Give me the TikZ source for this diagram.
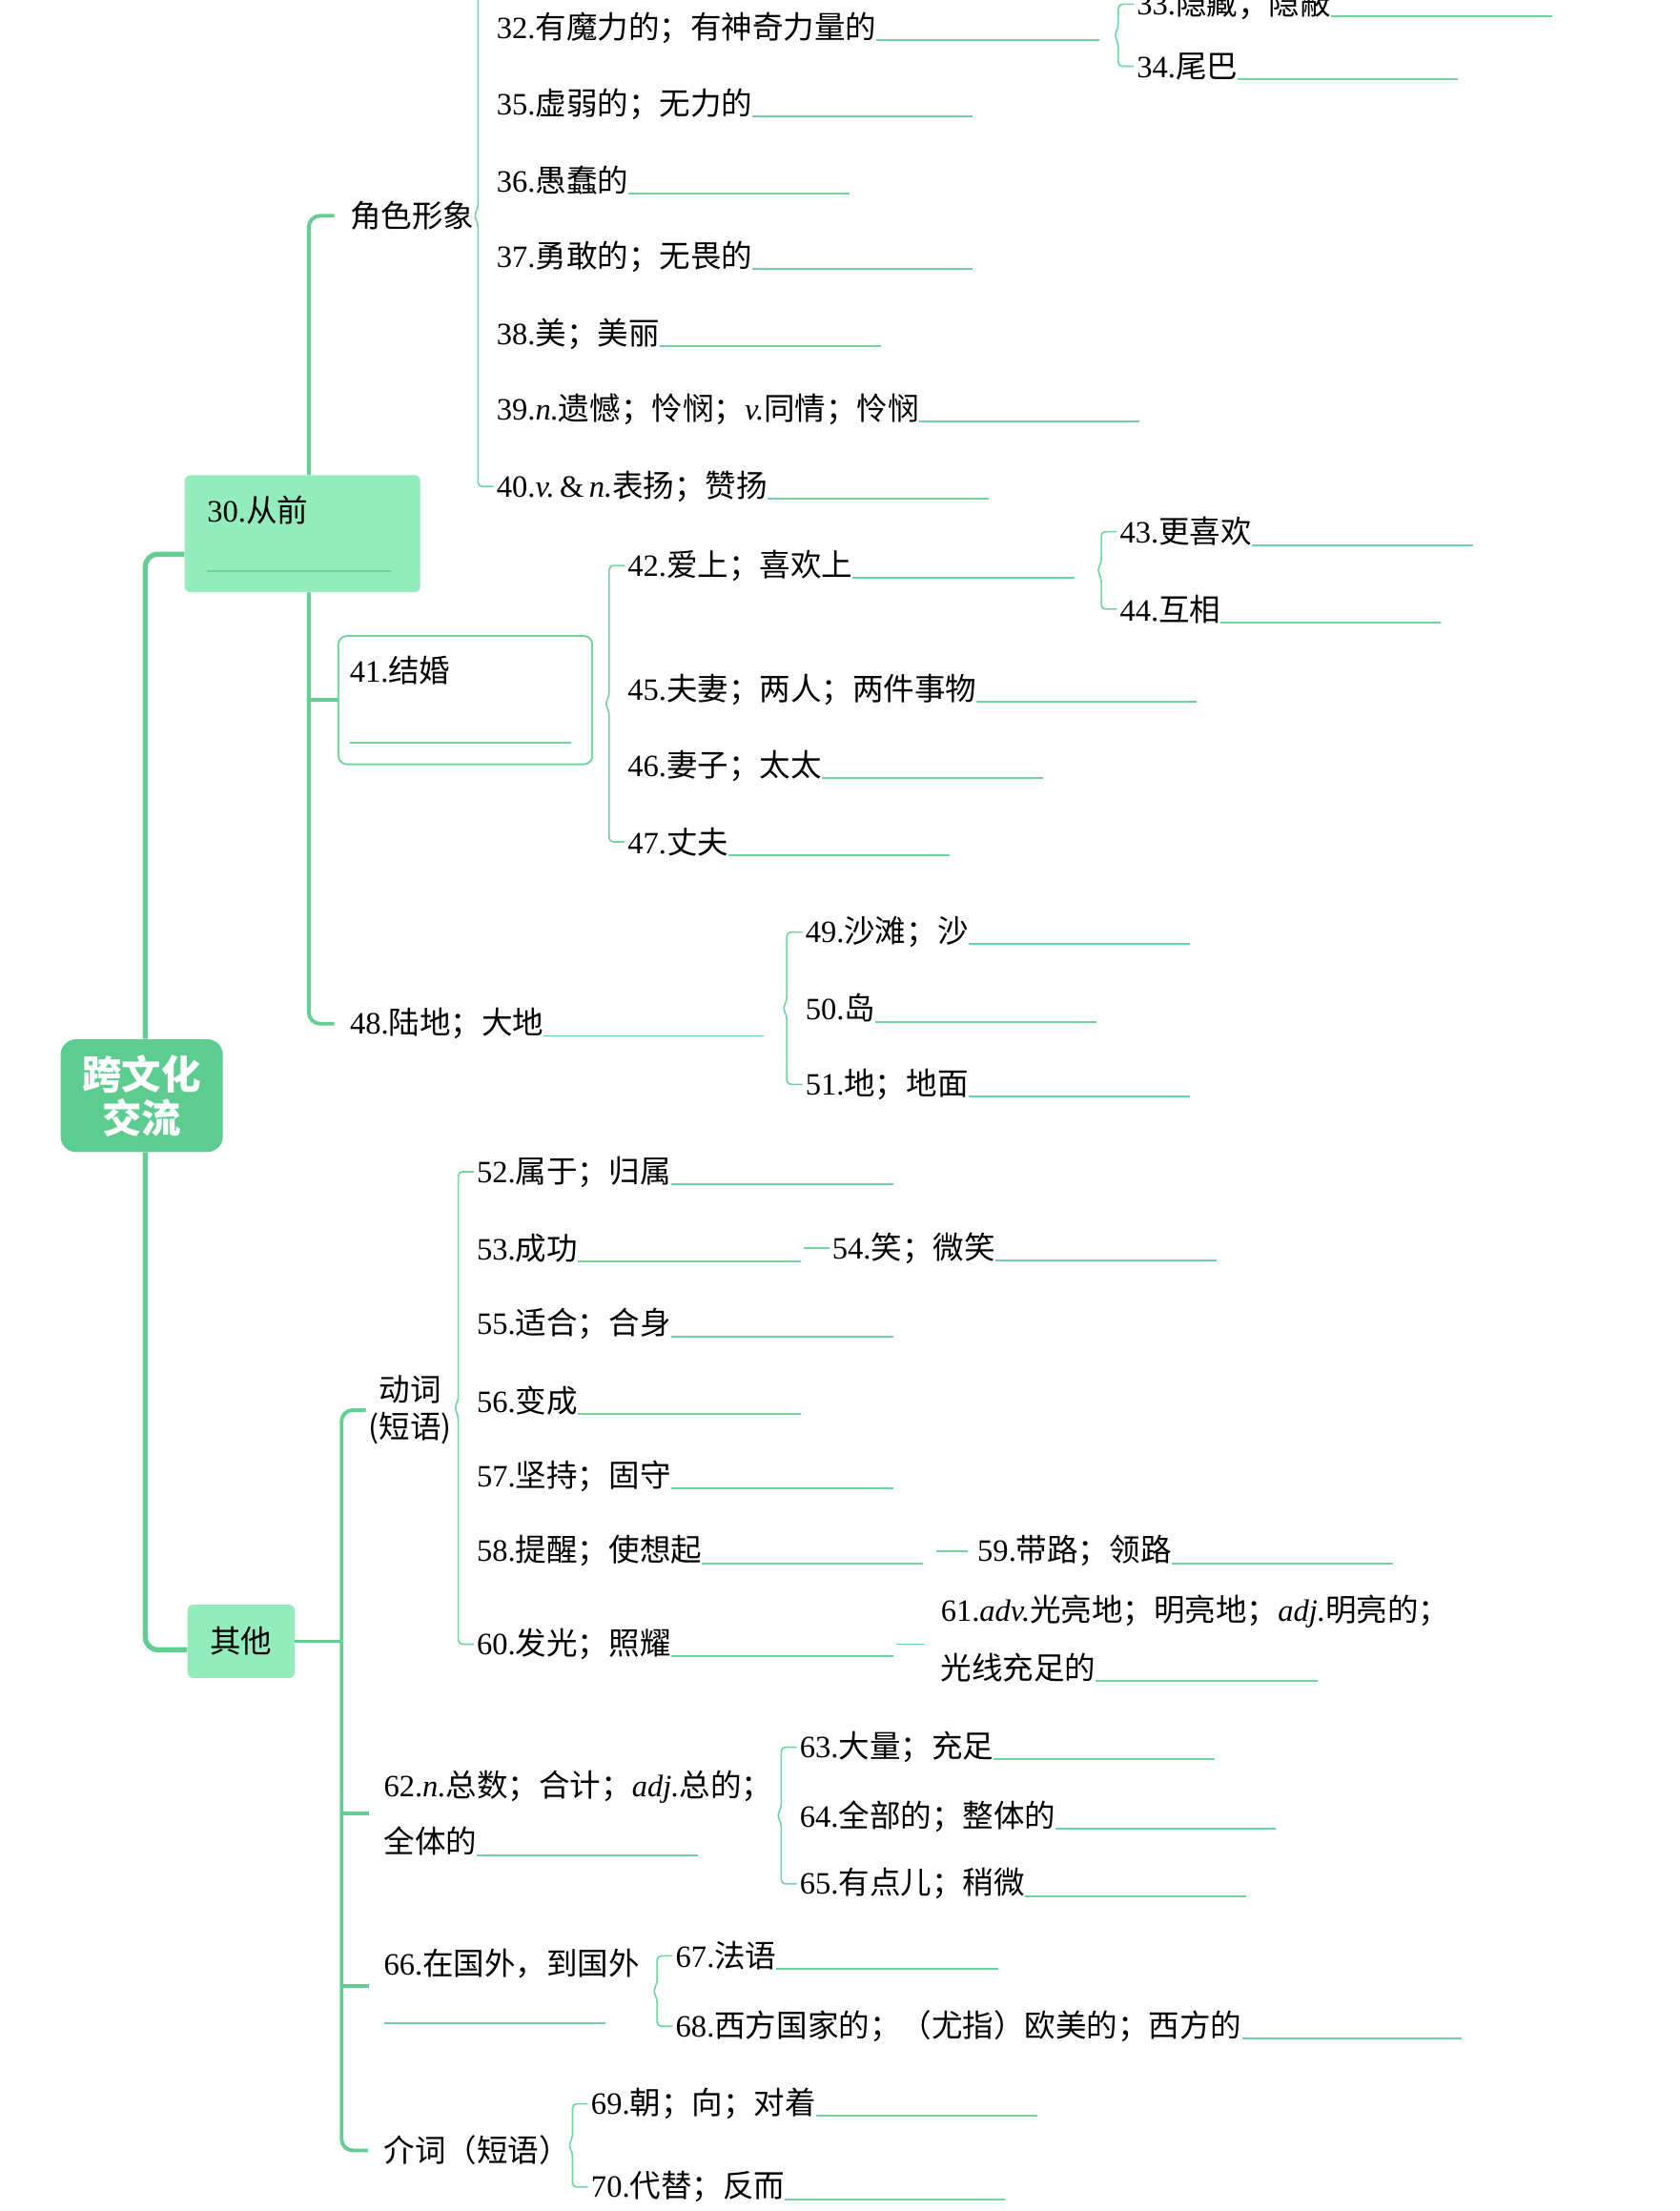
\documentclass[tikz,border=0pt]{standalone}
\usepackage{fontspec}
\setmainfont{Noto Sans CJK SC}
\newfontfamily\latn{Liberation Serif}
\usetikzlibrary{calc,positioning}

\definecolor{rootgreen}{HTML}{5CCD8E}
\definecolor{mint}{HTML}{93ECBC}
\definecolor{linegreen}{HTML}{62CF92}
\definecolor{twiggreen}{HTML}{72D5A0}
\definecolor{blankc}{HTML}{6ED39D}

\newcommand\nr[1]{{\latn #1.}}
\newcommand\wt[1]{{\latn\itshape #1.}}
\newcommand\ansline[1]{{\color{blankc}\rule[-1.8pt]{#1pt}{1.3pt}}}
% brace from first to last child, tip half way
\newcommand\fork[2]{%
  \draw[twig,rounded corners=3pt] let \p1=(#1.west), \p2=(#2.west), \p3=($(#1.west)!0.5!(#2.west)$) in
    (\x1,\y1) -- (\x1-11pt,\y1) -- (\x1-11pt,\y3+5pt) -- (\x1-14pt,\y3) -- (\x1-11pt,\y3-5pt)
    -- (\x1-11pt,\y2) -- (\x2,\y2);}

\begin{document}
\begin{tikzpicture}[x=1pt,y=-1pt,
  trunk/.style={draw=linegreen,line width=3.6pt,rounded corners=9pt},
  branch/.style={draw=linegreen,line width=2.6pt,rounded corners=8pt},
  twig/.style={draw=twiggreen,line width=1.1pt},
  rootbox/.style={fill=rootgreen,rounded corners=11pt,minimum width=115pt,minimum height=80pt,
    text=white,align=center,font=\fontsize{28}{31}\selectfont\bfseries},
  keybox/.style={fill=mint,rounded corners=4pt,font=\fontsize{22}{26}\selectfont},
  wordbox/.style={draw=twiggreen,line width=1.3pt,fill=white,rounded corners=6pt,
    font=\fontsize{22}{26}\selectfont},
  leaf/.style={anchor=west,inner sep=2pt,font=\fontsize{22}{26}\selectfont},
  cat/.style={leaf,inner sep=3pt}]
\useasboundingbox (0,0) rectangle (1191,1568);

  \node[rootbox] (root) at (100.5,777) {跨文化\\交流};
  \node[keybox,minimum width=167pt,minimum height=83pt,inner xsep=16pt,text width=135pt,align=left]
    (k30) at (214.5,378.5) {\nr{30}从前\\[8pt]\ansline{130}};
  \node[keybox,minimum width=76pt,minimum height=52pt,inner sep=0pt] (qita) at (171,1164) {其他};

  % 30 -- characters
  \node[cat] (role) at (245,153) {角色形象};
  \node[leaf] (t32) at (350,20)  {\nr{32}有魔力的；有神奇力量的\ansline{158}};
  \node[leaf] (t35) at (350,74)  {\nr{35}虚弱的；无力的\ansline{156}};
  \node[leaf] (t36) at (350,128) {\nr{36}愚蠢的\ansline{157}};
  \node[leaf] (t37) at (350,182) {\nr{37}勇敢的；无畏的\ansline{156}};
  \node[leaf] (t38) at (350,237) {\nr{38}美；美丽\ansline{157}};
  \node[leaf] (t39) at (350,290) {\nr{39}\wt{n}遗憾；怜悯；\wt{v}同情；怜悯\ansline{156}};
  \node[leaf] (t40) at (350,345) {\nr{40}\wt{v}\,{\latn\&}\,\wt{n}表扬；赞扬\ansline{157}};
  \node[leaf] (t33) at (804,3)   {\nr{33}隐藏；隐蔽\ansline{157}};
  \node[leaf] (t34) at (804,47)  {\nr{34}尾巴\ansline{156}};

  % 30 -- marriage
  \node[wordbox,minimum width=180pt,minimum height=91pt,inner xsep=8pt,text width=164pt,align=left]
    (k41) at (330,496.5) {\nr{41}结婚\\[16pt]\ansline{157}};
  \node[leaf] (t42) at (443,401) {\nr{42}爱上；喜欢上\ansline{157}};
  \node[leaf] (t45) at (443,489) {\nr{45}夫妻；两人；两件事物\ansline{156}};
  \node[leaf] (t46) at (443,543) {\nr{46}妻子；太太\ansline{157}};
  \node[leaf] (t47) at (443,597) {\nr{47}丈夫\ansline{157}};
  \node[leaf] (t43) at (792,377) {\nr{43}更喜欢\ansline{157}};
  \node[leaf] (t44) at (792,432) {\nr{44}互相\ansline{156}};

  % 30 -- land
  \node[leaf] (t48) at (246,726) {\nr{48}陆地；大地\ansline{156}};
  \node[leaf] (t49) at (569,661) {\nr{49}沙滩；沙\ansline{157}};
  \node[leaf] (t50) at (569,715) {\nr{50}岛\ansline{157}};
  \node[leaf] (t51) at (569,769) {\nr{51}地；地面\ansline{157}};

  % other -- verbs
  \node[leaf,anchor=center,align=center] (verb) at (291,1000) {动词\\(短语)};
  \node[leaf] (t52) at (336,831)  {\nr{52}属于；归属\ansline{158}};
  \node[leaf] (t53) at (336,885)  {\nr{53}成功\ansline{158}};
  \node[leaf] (t54) at (588,885)  {\nr{54}笑；微笑\ansline{157}};
  \node[leaf] (t55) at (336,939)  {\nr{55}适合；合身\ansline{158}};
  \node[leaf] (t56) at (336,993)  {\nr{56}变成\ansline{158}};
  \node[leaf] (t57) at (336,1047) {\nr{57}坚持；固守\ansline{158}};
  \node[leaf] (t58) at (336,1100) {\nr{58}提醒；使想起\ansline{157}};
  \node[leaf] (t59) at (691,1100) {\nr{59}带路；领路\ansline{157}};
  \node[leaf] (t60) at (336,1166) {\nr{60}发光；照耀\ansline{158}};
  \node[leaf,align=left] (t61) at (665,1162)
    {\nr{61}\wt{adv}光亮地；明亮地；\wt{adj}明亮的；\\[15pt]光线充足的\ansline{157}};

  % other -- the rest
  \node[leaf,align=left] (t62) at (270,1286) {\nr{62}\wt{n}总数；合计；\wt{adj}总的；\\[14pt]全体的\ansline{157}};
  \node[leaf] (t63) at (565,1239) {\nr{63}大量；充足\ansline{157}};
  \node[leaf] (t64) at (565,1288) {\nr{64}全部的；整体的\ansline{156}};
  \node[leaf] (t65) at (565,1336) {\nr{65}有点儿；稍微\ansline{157}};
  \node[leaf,align=left] (t66) at (270,1408.5) {\nr{66}在国外，到国外\\[7pt]\ansline{157}};
  \node[leaf] (t67) at (477,1387) {\nr{67}法语\ansline{157}};
  \node[leaf] (t68) at (477,1437) {\nr{68}西方国家的；（尤指）欧美的；西方的\ansline{156}};
  \node[cat] (prep) at (269,1525) {介词（短语）};
  \node[leaf] (t69) at (417,1492) {\nr{69}朝；向；对着\ansline{157}};
  \node[leaf] (t70) at (417,1551) {\nr{70}代替；反而\ansline{156}};

  % main lines
  \draw[trunk] ([xshift=2.5pt]root.north) |- ([yshift=-14.5pt]k30.west);
  \draw[trunk] ([xshift=2.5pt]root.south) |- ([yshift=-6pt]qita.west);
  \coordinate (v30) at ([xshift=4.5pt]k30.south);
  \coordinate (vq) at ([xshift=33pt]qita.east);
  \draw[branch,shorten >=8pt] ([xshift=4.5pt]k30.north) |- (role.west);
  \draw[branch,shorten >=9pt] (v30) |- (t48.west);
  \draw[branch] (v30 |- k41.west) -- (k41.west);
  \draw[branch] (qita.east) -- (vq);
  \draw[branch] (vq) |- (verb.west);
  \draw[branch,shorten >=8pt] (vq) |- (prep.west);
  \draw[branch,shorten >=8pt] (vq |- t62.west) -- (t62.west);
  \draw[branch,shorten >=8pt] (vq |- t66.west) -- (t66.west);

  % braces
  \draw[twig,rounded corners=3pt] let \p1=(role.east), \p2=(t40.west) in
    (\x2-11pt,5pt) -- (\x2-11pt,\y1+5pt) -- (\x2-14pt,\y1) -- (\x2-11pt,\y1-5pt)
    -- (\x2-11pt,\y2) -- (\x2,\y2);
  \fork{t33}{t34}
  \fork{t42}{t47}
  \fork{t43}{t44}
  \fork{t49}{t51}
  \fork{t52}{t60}
  \fork{t63}{t65}
  \fork{t67}{t68}
  \fork{t69}{t70}
  \draw[twig] (t53.east) -- (t54.west);
  \draw[twig,shorten <=7pt,shorten >=5pt] (t58.east) -- (t59.west);
  \draw[twig,shorten >=9pt] (t60.east) -- (t60.east -| t61.west);
\end{tikzpicture}
\end{document}
